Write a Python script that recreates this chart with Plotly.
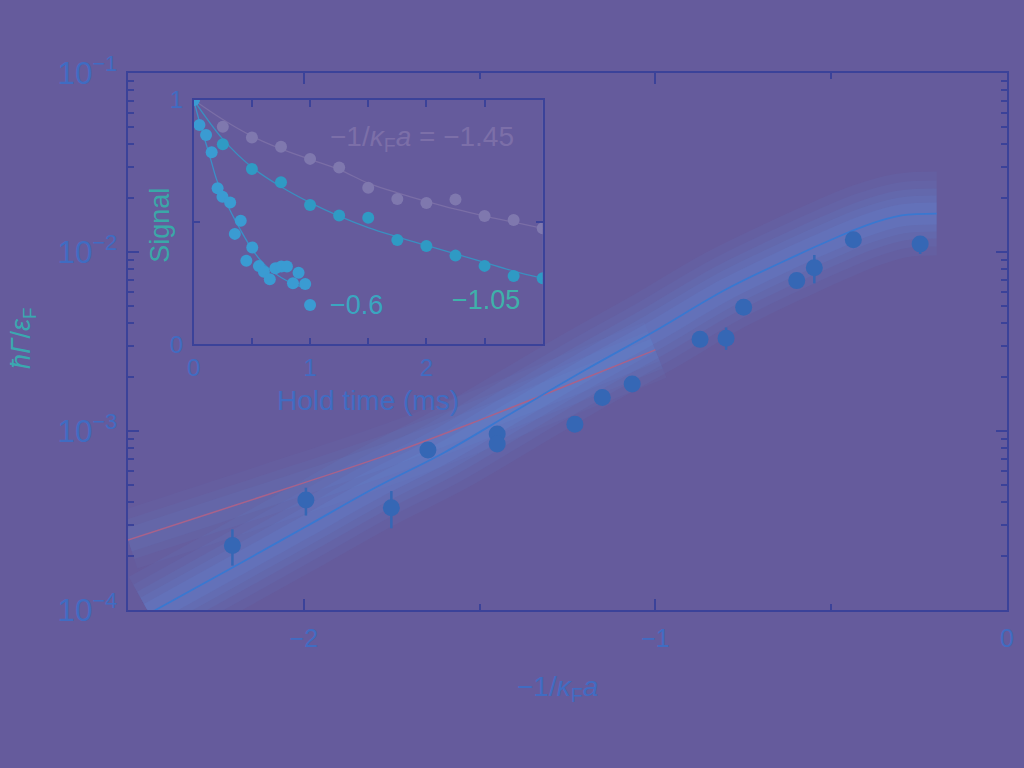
import plotly.graph_objects as go

# ---------------- data ----------------
# main panel: measured decay rates
main_x = [-2.203, -1.994, -1.751, -1.647, -1.450, -1.450, -1.229, -1.151, -1.066,
          -0.873, -0.799, -0.749, -0.598, -0.548, -0.437, -0.247]
main_y = [2.29e-4, 4.12e-4, 3.73e-4, 7.83e-4, 9.62e-4, 8.45e-4, 1.09e-3, 1.54e-3, 1.83e-3,
          3.25e-3, 3.30e-3, 4.91e-3, 6.92e-3, 8.17e-3, 1.17e-2, 1.11e-2]
err_plus = [0.53e-4, 0.70e-4, 0.89e-4, 0, 0, 0, 0, 0, 0,
            0, 0.49e-3, 0, 0, 1.45e-3, 0, 0]
err_minus = [0.52e-4, 0.75e-4, 0.87e-4, 0, 0, 0, 0, 0, 0,
             0, 0.46e-3, 0, 0, 1.49e-3, 0, 1.35e-3]

# main panel: theory curves
theory_x = [-2.44, -2.2, -2.0, -1.8, -1.6, -1.4, -1.2, -1.0, -0.8, -0.6, -0.5, -0.4, -0.3, -0.2]
theory_y = [9.55e-5, 1.74e-4, 2.88e-4, 4.79e-4, 7.59e-4, 1.29e-3, 2.19e-3, 3.63e-3,
            6.17e-3, 9.55e-3, 1.17e-2, 1.41e-2, 1.60e-2, 1.64e-2]
red_x = [-2.5, -2.25, -2.0, -1.75, -1.5, -1.25, -1.0]
red_y = [2.46e-4, 3.55e-4, 5.13e-4, 7.50e-4, 1.15e-3, 1.80e-3, 2.84e-3]

# inset: signal vs hold time
t_145 = [0, 0.25, 0.5, 0.75, 1.0, 1.25, 1.5, 1.75, 2.0, 2.25, 2.5, 2.75, 3.0]
s_145 = [1.0, 0.891, 0.847, 0.809, 0.759, 0.724, 0.641, 0.595, 0.578, 0.593, 0.525, 0.509, 0.475]
t_105 = [0, 0.25, 0.5, 0.75, 1.0, 1.25, 1.5, 1.75, 2.0, 2.25, 2.5, 2.75, 3.0]
s_105 = [1.0, 0.819, 0.718, 0.663, 0.570, 0.527, 0.518, 0.427, 0.402, 0.363, 0.321, 0.280, 0.270]
t_06 = [0, 0.049, 0.106, 0.154, 0.205, 0.247, 0.313, 0.353, 0.404, 0.452, 0.503, 0.560,
        0.603, 0.654, 0.702, 0.753, 0.801, 0.853, 0.901, 0.958, 1.0]
s_06 = [1.0, 0.898, 0.857, 0.786, 0.639, 0.604, 0.580, 0.452, 0.506, 0.342, 0.396, 0.320,
        0.297, 0.266, 0.311, 0.318, 0.318, 0.250, 0.293, 0.247, 0.161]

fit_t = [0, 0.25, 0.5, 0.75, 1, 1.25, 1.5, 1.75, 2, 2.25, 2.5, 2.75, 3]
fit_145 = [1.0, 0.92, 0.852, 0.80, 0.757, 0.715, 0.66, 0.62, 0.585, 0.553, 0.525, 0.50, 0.475]
fit_105 = [1.0, 0.84, 0.725, 0.645, 0.58, 0.525, 0.478, 0.44, 0.405, 0.37, 0.335, 0.30, 0.27]
fit_06_t = [0, 0.05, 0.1, 0.15, 0.2, 0.3, 0.4, 0.5, 0.6, 0.7, 0.8, 0.95]
fit_06 = [1.0, 0.91, 0.83, 0.75, 0.67, 0.56, 0.47, 0.39, 0.33, 0.29, 0.26, 0.23]

main_xticks = [-2, -1, 0]
inset_xticks = [0, 1, 2]
inset_yticks = [0, 0.5, 1]
inset_yticktext = ["0", "", "1"]

# ---------------- styling ----------------
BG = "#655b9c"
AXIS = "#3b4299"
TXT = "#406cc2"
FONT = "Liberation Sans, Arial, Helvetica, sans-serif"
PT = "#3567b5"
BLUE_LINE = "#3a78d0"
RED_LINE = "#a8628a"

fig = go.Figure()

# soft glow under the main curves (layered translucent strokes)
for w, a in [(84, 0.05), (66, 0.06), (50, 0.07), (36, 0.08), (22, 0.09)]:
    fig.add_trace(go.Scatter(x=theory_x, y=theory_y, mode="lines",
                             line=dict(color=f"rgba(100,170,255,{a})", width=w, shape="spline"),
                             hoverinfo="skip", showlegend=False))
for w, a in [(60, 0.04), (40, 0.05), (24, 0.06)]:
    fig.add_trace(go.Scatter(x=red_x, y=red_y, mode="lines",
                             line=dict(color=f"rgba(100,170,255,{a})", width=w, shape="spline"),
                             hoverinfo="skip", showlegend=False))

fig.add_trace(go.Scatter(x=red_x, y=red_y, mode="lines", line=dict(color=RED_LINE, width=1.5, shape="spline"),
                         showlegend=False))
fig.add_trace(go.Scatter(x=theory_x, y=theory_y, mode="lines", line=dict(color=BLUE_LINE, width=1.8, shape="spline"),
                         showlegend=False))
fig.add_trace(go.Scatter(x=main_x, y=main_y, mode="markers",
                         marker=dict(size=17, color=PT),
                         error_y=dict(type="data", array=err_plus, arrayminus=err_minus, symmetric=False,
                                      color=PT, thickness=2.5, width=0),
                         showlegend=False))

# inset
for tt, ff, c in [(fit_t, fit_145, "#7a6ea6"), (fit_t, fit_105, "#3a8fc0"), (fit_06_t, fit_06, "#3a90c8")]:
    fig.add_trace(go.Scatter(x=tt, y=ff, mode="lines", line=dict(color=c, width=1.3, shape="spline"),
                             xaxis="x2", yaxis="y2", showlegend=False))
for tt, ss, c in [(t_145, s_145, "#7f78ae"), (t_105, s_105, "#2f9ac4"), (t_06, s_06, "#3a9bd2")]:
    fig.add_trace(go.Scatter(x=tt, y=ss, mode="markers", marker=dict(size=12, color=c),
                             xaxis="x2", yaxis="y2", showlegend=False))

axis_common = dict(showline=True, linecolor=AXIS, linewidth=1.5, mirror="ticks", ticks="inside",
                   tickcolor=AXIS, tickwidth=1.5, showgrid=False, zeroline=False)

fig.update_layout(
    width=1024, height=768,
    margin=dict(l=128, r=10, t=73, b=158),
    paper_bgcolor=BG, plot_bgcolor=BG,
    font=dict(family=FONT, color=TXT),
    xaxis=dict(range=[-2.5, 0], tickvals=main_xticks, ticklen=11,
               tickfont=dict(size=25, color=TXT), ticklabelstandoff=5,
               minor=dict(dtick=0.5, ticks="inside", ticklen=6, tickcolor=AXIS, tickwidth=1.5, showgrid=False),
               **axis_common),
    yaxis=dict(type="log", range=[-4, -1], dtick=1, exponentformat="power", ticklen=11,
               tickfont=dict(size=25, color=TXT), ticklabelstandoff=4,
               minor=dict(dtick="D1", ticks="inside", ticklen=6, tickcolor=AXIS, tickwidth=1.5, showgrid=False),
               **axis_common),
    xaxis2=dict(domain=[0.0748, 0.4718], anchor="y2", range=[0, 3], tickvals=inset_xticks, ticklen=7,
                tickfont=dict(size=24, color=TXT), ticklabelstandoff=1,
                minor=dict(dtick=0.5, ticks="inside", ticklen=7, tickcolor=AXIS, tickwidth=1.5, showgrid=False),
                **axis_common),
    yaxis2=dict(domain=[0.4948, 0.9497], anchor="x2", range=[0, 1], tickvals=inset_yticks,
                ticktext=inset_yticktext, ticklen=7, tickfont=dict(size=24, color=TXT), ticklabelstandoff=4,
                **axis_common),
    shapes=[dict(type="rect", xref="x2 domain", yref="y2 domain", x0=0, x1=1, y0=0, y1=1,
                 fillcolor="rgba(95,150,240,0.35)", line=dict(width=0), layer="below")],
)

ann = []
ann.append(dict(text="\u22121/<i>\u03ba</i><sub>F</sub><i>a</i>", xref="paper", yref="paper",
                x=0.4887, y=-0.1453, xanchor="center", yanchor="middle", showarrow=False,
                font=dict(size=28, color=TXT)))
ann.append(dict(text="<i>\u0127\u0393</i>/<i>\u03b5</i><sub>F</sub>", xref="paper", yref="paper",
                x=-0.1196, y=0.5065, xanchor="center", yanchor="middle", showarrow=False, textangle=-90,
                font=dict(size=27, color="#3aa8b0")))
ann.append(dict(text="Hold time (ms)", xref="paper", yref="paper", x=0.2731, y=0.391,
                xanchor="center", yanchor="middle", showarrow=False, font=dict(size=28, color=TXT)))
ann.append(dict(text="Signal", xref="paper", yref="paper", x=0.0361, y=0.717, textangle=-90,
                xanchor="center", yanchor="middle", showarrow=False, font=dict(size=27, color="#3aa8a8")))
ann.append(dict(text="\u22121/<i>\u03ba</i><sub>F</sub><i>a</i> = \u22121.45", xref="x2", yref="y2",
                x=1.157, y=0.844, xanchor="left", yanchor="middle", showarrow=False,
                font=dict(size=28, color="#7c6fa8")))
ann.append(dict(text="\u22120.6", xref="x2", yref="y2", x=1.157, y=0.161, xanchor="left", yanchor="middle",
                showarrow=False, font=dict(size=27, color="#3aa6c0")))
ann.append(dict(text="\u22121.05", xref="x2", yref="y2", x=2.512, y=0.181, xanchor="center", yanchor="middle",
                showarrow=False, font=dict(size=27, color="#3eb2aa")))
fig.update_layout(annotations=ann)

fig.write_html("out.html")
